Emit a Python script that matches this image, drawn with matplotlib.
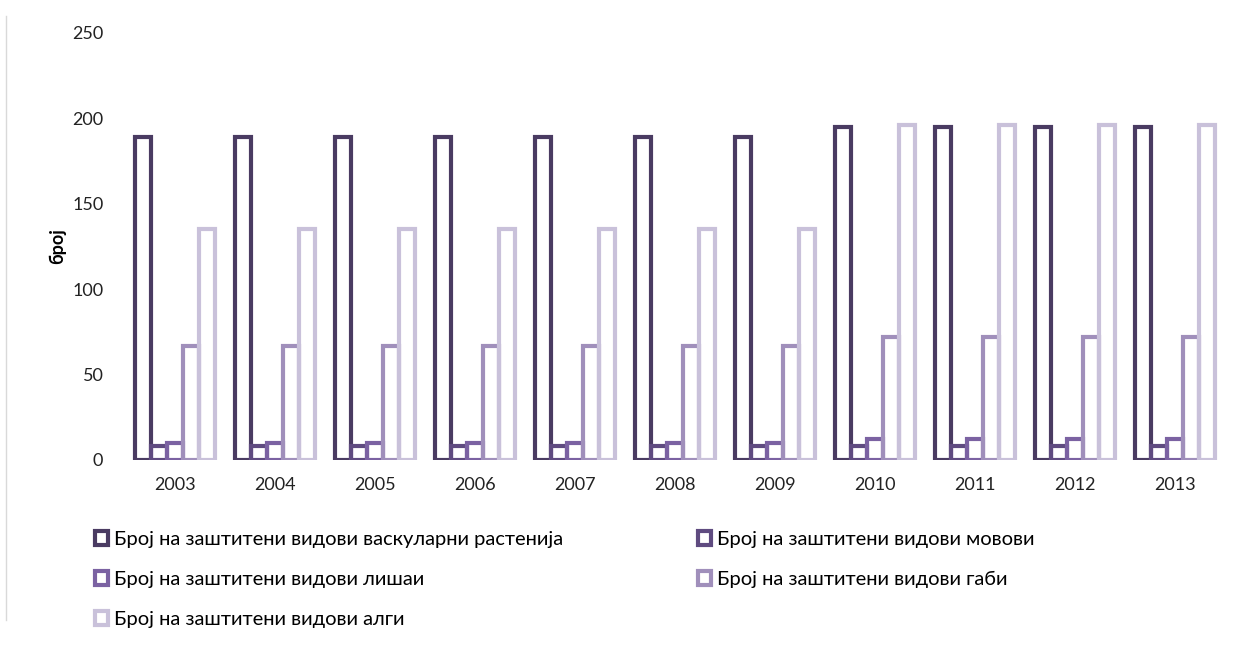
import numpy as np
import matplotlib
matplotlib.use('Agg')
import matplotlib.pyplot as plt
from matplotlib.patches import Patch
from matplotlib.lines import Line2D

plt.rcParams['font.family'] = ['Lato', 'DejaVu Sans']

# data
years = ['2003', '2004', '2005', '2006', '2007', '2008', '2009', '2010', '2011', '2012', '2013']
vascular = [189, 189, 189, 189, 189, 189, 189, 195, 195, 195, 195]
mosses = [8, 8, 8, 8, 8, 8, 8, 8, 8, 8, 8]
lichens = [10, 10, 10, 10, 10, 10, 10, 12, 12, 12, 12]
fungi = [67, 67, 67, 67, 67, 67, 67, 72, 72, 72, 72]
algae = [135, 135, 135, 135, 135, 135, 135, 196, 196, 196, 196]

labels = ['Број на заштитени видови васкуларни растенија',
          'Број на заштитени видови мовови',
          'Број на заштитени видови лишаи',
          'Број на заштитени видови габи',
          'Број на заштитени видови алги']
series = [vascular, mosses, lichens, fungi, algae]
colors = ['#4a3b62', '#5f4b80', '#7b62a2', '#a08fbb', '#c9c1da']

fig = plt.figure(figsize=(12.49, 6.46), dpi=100)
ax = fig.add_axes([0.1, 0.288, 0.881, 0.661])

x = np.arange(len(years))
w = 0.16
for i, (vals, c) in enumerate(zip(series, colors)):
    ax.bar(x + (i - 2) * w, vals, w, facecolor='none', edgecolor=c, linewidth=3)

ax.set_xlim(-0.5, len(years) - 0.5)
ax.set_ylim(0, 250)
ax.set_yticks(range(0, 251, 50))
ax.set_xticks(x)
ax.set_xticklabels(years)
ax.tick_params(length=0, labelsize=13, colors='#222222')
ax.tick_params(axis='y', pad=15.5)
ax.tick_params(axis='x', pad=12)
for s in ax.spines.values():
    s.set_visible(False)
ax.set_ylabel('број', fontsize=13, fontweight='bold', labelpad=4)

# legend, rows filled left to right
order = [0, 2, 4, 1, 3]
handles = [Patch(facecolor='white', edgecolor=colors[i], linewidth=3) for i in order]
fig.legend(handles, [labels[i] for i in order], ncol=2, loc='upper left',
           bbox_to_anchor=(0.0615, 0.206), frameon=False, fontsize=14.5,
           handlelength=0.65, handleheight=0.65, handletextpad=0.3,
           labelspacing=1.14, columnspacing=6.7)

# chart frame line on the left
fig.add_artist(Line2D([0.005, 0.005], [0.04, 0.975], color='#d9d9d9', lw=1))

fig.savefig('out.png', dpi=100)
